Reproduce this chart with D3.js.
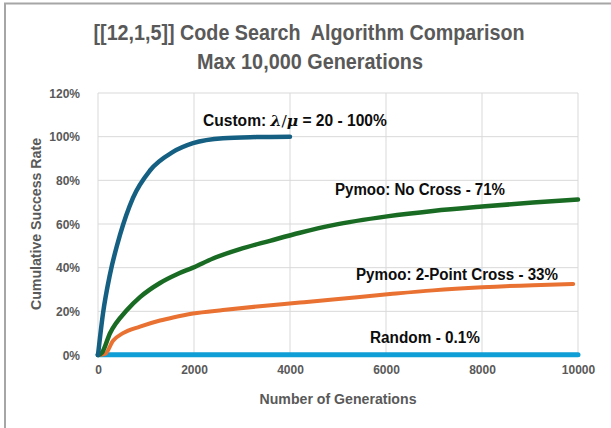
<!DOCTYPE html>
<html>
<head>
<meta charset="UTF-8">
<title>Code Search Algorithm Comparison</title>
<script src="https://cdn.jsdelivr.net/npm/d3@7"></script>
<style>
  body { margin: 0; background: #fff; }
  text { font-family: "Liberation Sans", Arial, sans-serif; font-weight: bold; white-space: pre; }
</style>
</head>
<body>
<script>
// generations / cumulative success (%)
var customGen   = [0, 104, 250, 458, 729, 1083, 1563, 1979, 2604, 3300, 4000];
var customRate  = [0, 19, 37, 55, 72, 84.5, 93, 97, 99.3, 99.8, 100];
var noCrossGen  = [0, 80, 250, 604, 875, 1292, 1646, 1979, 2396, 2958, 3583, 4208, 4896, 6021, 6979, 8000, 9063, 10000];
var noCrossRate = [0, 1, 10, 20.6, 26.5, 33, 37, 40, 44.2, 48.5, 52.3, 56, 59.5, 63.5, 66, 68, 69.8, 71.2];
var crossGen    = [0, 150, 313, 521, 875, 1292, 1563, 1979, 2604, 3313, 4208, 4896, 6083, 6979, 8000, 9063, 9900];
var crossRate   = [0, 0.5, 6.5, 10, 13, 15.8, 17.2, 19, 20.6, 22.2, 24, 25.4, 27.9, 29.6, 31, 32, 32.5];
var randomGen   = [0, 10000];
var randomRate  = [0.1, 0.1];

var xTicks = [0, 2000, 4000, 6000, 8000, 10000];
var yTicks = [0, 20, 40, 60, 80, 100, 120];

var series = [
  { gen: randomGen, rate: randomRate, color: "#0F9ED5", width: 5 },
  { gen: crossGen, rate: crossRate, color: "#E97132", width: 4 },
  { gen: noCrossGen, rate: noCrossRate, color: "#196B24", width: 4.5 },
  { gen: customGen, rate: customRate, color: "#156082", width: 4.5 }
];

var width = 611, height = 428;
var svg = d3.select("body").append("svg")
  .attr("width", width)
  .attr("height", height);

// outer frame (left and top edges visible)
svg.append("path")
  .attr("d", "M5,428 V3.5 H611")
  .attr("fill", "none")
  .attr("stroke", "#a6a6a6")
  .attr("stroke-width", 2);

var x = d3.scaleLinear().domain([0, 10000]).range([98, 578]);
var y = d3.scaleLinear().domain([0, 120]).range([355, 93]);

var grid = svg.append("g");
grid.selectAll(".hg").data(yTicks).enter().append("line")
  .attr("x1", x(0)).attr("x2", x(10000))
  .attr("y1", function(d){ return y(d); }).attr("y2", function(d){ return y(d); })
  .attr("stroke", "#d9d9d9").attr("stroke-width", 1);
grid.selectAll(".vg").data(xTicks).enter().append("line")
  .attr("y1", y(0)).attr("y2", y(120))
  .attr("x1", function(d){ return x(d); }).attr("x2", function(d){ return x(d); })
  .attr("stroke", "#d9d9d9").attr("stroke-width", 1);

// axes, tick labels only
var xAxis = svg.append("g")
  .attr("transform", "translate(0," + (y(0) + 7) + ")")
  .call(d3.axisBottom(x).tickValues(xTicks).tickSize(0).tickFormat(d3.format("d")));
var yAxis = svg.append("g")
  .attr("transform", "translate(" + (x(0) - 15) + ",0)")
  .call(d3.axisLeft(y).tickValues(yTicks).tickSize(0).tickFormat(function(d){ return d + "%"; }));
[xAxis, yAxis].forEach(function(a){
  a.select(".domain").remove();
  a.selectAll("text").attr("fill", "#595959").style("font-size", "12px");
});
yAxis.selectAll("text").attr("dy", "0.35em");

var line = d3.line()
  .x(function(d){ return x(d[0]); })
  .y(function(d){ return y(d[1]); })
  .curve(d3.curveMonotoneX);

series.forEach(function(s){
  var pts = s.gen.map(function(g, i){ return [g, s.rate[i]]; });
  svg.append("path")
    .datum(pts)
    .attr("d", line)
    .attr("fill", "none")
    .attr("stroke", s.color)
    .attr("stroke-width", s.width)
    .attr("stroke-linejoin", "round")
    .attr("stroke-linecap", "round");
});

function fit(sel, len) {
  return sel.attr("textLength", len).attr("lengthAdjust", "spacingAndGlyphs");
}

// titles
fit(svg.append("text").attr("x", 309).attr("y", 40).attr("text-anchor", "middle")
  .attr("fill", "#595959").style("font-size", "22px")
  .text("[[12,1,5]] Code Search  Algorithm Comparison"), 431);
fit(svg.append("text").attr("x", 310).attr("y", 69).attr("text-anchor", "middle")
  .attr("fill", "#595959").style("font-size", "22px")
  .text("Max 10,000 Generations"), 226);

fit(svg.append("text")
  .attr("transform", "translate(41," + y(60) + ") rotate(-90)")
  .attr("text-anchor", "middle")
  .attr("fill", "#595959").style("font-size", "15px")
  .text("Cumulative Success Rate"), 172);
fit(svg.append("text")
  .attr("x", x(5000)).attr("y", 404).attr("text-anchor", "middle")
  .attr("fill", "#595959").style("font-size", "15px")
  .text("Number of Generations"), 157);

// series labels
var lab = svg.append("g").attr("fill", "#0d0d0d").style("font-size", "16px");
var t = lab.append("text").attr("x", 203).attr("y", 126);
t.append("tspan").text("Custom: ");
t.append("tspan").style("font-family", "'DejaVu Serif', serif").style("font-style", "italic").text("λ");
t.append("tspan").style("font-family", "'DejaVu Serif', serif").style("font-weight", "normal").text("/");
t.append("tspan").style("font-family", "'DejaVu Serif', serif").style("font-style", "italic").text("μ");
t.append("tspan").text(" = 20 - 100%");
// shrink the font so the label spans the same width as in the picture
var tl = t.node().getComputedTextLength();
t.style("font-size", (16 * 184 / tl) + "px");
fit(lab.append("text").attr("x", 335).attr("y", 195).text("Pymoo: No Cross - 71%"), 170);
fit(lab.append("text").attr("x", 356).attr("y", 280).text("Pymoo: 2-Point Cross - 33%"), 202);
fit(lab.append("text").attr("x", 370).attr("y", 343).text("Random - 0.1%"), 110);
</script>
</body>
</html>
